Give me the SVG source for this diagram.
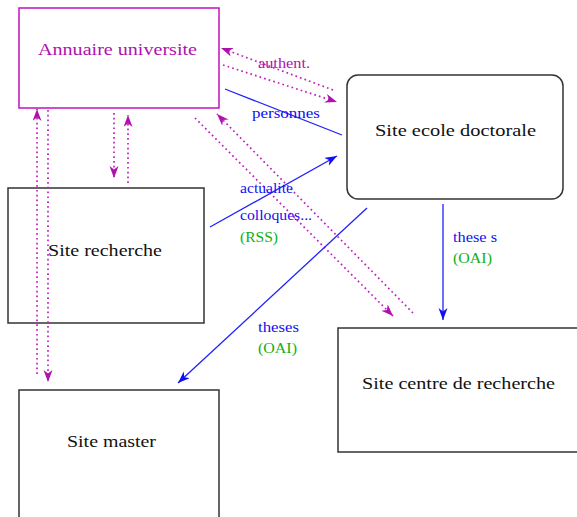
<svg xmlns="http://www.w3.org/2000/svg" width="577" height="517" viewBox="0 0 577 517">
<style>
.box{fill:#fff;stroke:#333;stroke-width:1.5}
.mbox{fill:#fff;stroke:#c010c0;stroke-width:1.5}
.nt{font-family:"Liberation Serif","Times New Roman",serif;font-size:17px;fill:#111}
.lb{font-family:"Liberation Serif","Times New Roman",serif;font-size:14px}
.blue{fill:#1010f0}
.green{fill:#10b010}
.mag{fill:#b010b0}
.md{fill:none;stroke:#c020c0;stroke-width:1.7;stroke-dasharray:1.7 3.1}
.bl{fill:none;stroke:#2020ff;stroke-width:1.3}
</style>
<defs>
<marker id="am" markerUnits="userSpaceOnUse" markerWidth="13" markerHeight="10" refX="12" refY="4.5" orient="auto">
<path d="M0,0 L12,4.5 L0,9 L3.5,4.5 Z" fill="#b010b0"/>
</marker>
<marker id="ab" markerUnits="userSpaceOnUse" markerWidth="13" markerHeight="10" refX="12" refY="4.5" orient="auto">
<path d="M0,0 L12,4.5 L0,9 L3.5,4.5 Z" fill="#1010f0"/>
</marker>
</defs>
<rect width="577" height="517" fill="#fff"/>
<g id="annuaire">
<rect class="mbox" x="19" y="8" width="200" height="100"/>
<text class="nt" x="38" y="55" textLength="159" lengthAdjust="spacingAndGlyphs" style="fill:#b010b0">Annuaire universite</text>
</g>
<g id="ecole">
<rect class="box" x="347" y="75" width="216" height="124" rx="11"/>
<text class="nt" x="375" y="136" textLength="161" lengthAdjust="spacingAndGlyphs">Site ecole doctorale</text>
</g>
<g id="recherche">
<rect class="box" x="8" y="188" width="196" height="135"/>
<text class="nt" x="48" y="256" textLength="114" lengthAdjust="spacingAndGlyphs">Site recherche</text>
</g>
<g id="master">
<rect class="box" x="19" y="390" width="200" height="135"/>
<text class="nt" x="67" y="447" textLength="89" lengthAdjust="spacingAndGlyphs">Site master</text>
</g>
<g id="centre">
<rect class="box" x="338" y="328" width="245" height="124"/>
<text class="nt" x="362" y="389" textLength="193" lengthAdjust="spacingAndGlyphs">Site centre de recherche</text>
</g>
<g id="connectors">
<line class="md" x1="333" y1="90" x2="221" y2="48" marker-end="url(#am)"/>
<line class="md" x1="223" y1="65" x2="337" y2="102" marker-end="url(#am)"/>
<line class="bl" x1="225" y1="89" x2="342" y2="135"/>
<line class="md" x1="195" y1="118" x2="393" y2="316" marker-end="url(#am)"/>
<line class="md" x1="413" y1="313" x2="217" y2="114" marker-end="url(#am)"/>
<line class="md" x1="114" y1="113" x2="114" y2="178" marker-end="url(#am)"/>
<line class="md" x1="128" y1="183" x2="128" y2="115" marker-end="url(#am)"/>
<line class="md" x1="37" y1="374" x2="37" y2="109" marker-end="url(#am)"/>
<line class="md" x1="48" y1="110" x2="48" y2="382" marker-end="url(#am)"/>
<line class="bl" x1="210" y1="227" x2="337" y2="156" marker-end="url(#ab)"/>
<line class="bl" x1="367" y1="208" x2="178" y2="383" marker-end="url(#ab)"/>
<line class="bl" x1="443" y1="204" x2="443" y2="320" marker-end="url(#ab)"/>
<text class="lb mag" x="258" y="68" textLength="52" lengthAdjust="spacingAndGlyphs">authent.</text>
<text class="lb blue" x="252" y="118" textLength="68" lengthAdjust="spacingAndGlyphs">personnes</text>
<text class="lb blue" x="240" y="193" textLength="53" lengthAdjust="spacingAndGlyphs">actualite</text>
<text class="lb blue" x="240" y="220" textLength="72" lengthAdjust="spacingAndGlyphs">colloques...</text>
<text class="lb green" x="240" y="242" textLength="38" lengthAdjust="spacingAndGlyphs">(RSS)</text>
<text class="lb blue" x="258" y="332" textLength="41" lengthAdjust="spacingAndGlyphs">theses</text>
<text class="lb green" x="258" y="353" textLength="39" lengthAdjust="spacingAndGlyphs">(OAI)</text>
<text class="lb blue" x="453" y="242" textLength="44" lengthAdjust="spacingAndGlyphs">these s</text>
<text class="lb green" x="453" y="263" textLength="39" lengthAdjust="spacingAndGlyphs">(OAI)</text>
</g>
</svg>
